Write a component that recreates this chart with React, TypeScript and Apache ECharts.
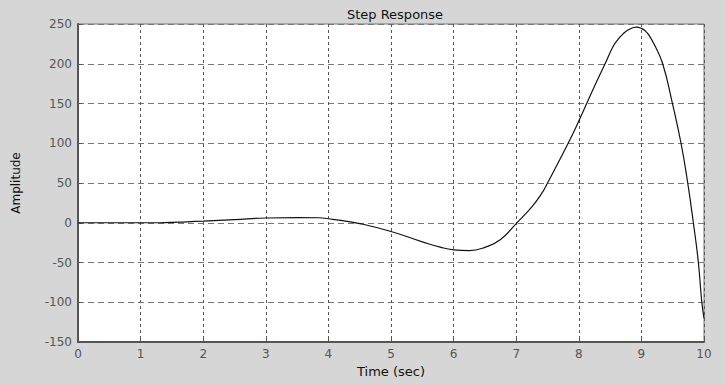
import React, { useEffect, useRef } from "react";
import * as echarts from "echarts";

const times = [0, 0.5, 1, 1.3, 1.6, 2, 2.5, 3, 3.5, 3.85, 4, 4.2, 4.5, 5, 5.5, 5.8, 6, 6.25, 6.5, 6.75, 7, 7.25, 7.4, 7.5, 7.83, 8, 8.2, 8.42, 8.55, 8.63, 8.7, 8.8, 8.92, 9.0, 9.06, 9.12, 9.22, 9.34, 9.49, 9.633, 9.74, 9.83, 9.91, 9.965, 10];
const amplitude = [0, 0, 0, 0, 0.8, 2, 4, 6, 6.5, 6.3, 5, 3, -1, -11, -24, -31, -34, -35, -31, -21, -1, 20, 36, 50, 100, 128, 163, 200, 222, 231, 237, 243, 246, 244.5, 241.5, 236, 222, 200, 152, 100, 50, 0, -50, -100, -120];
const xTicks = { min: 0, max: 10, interval: 1 };
const yTicks = { min: -150, max: 250, interval: 50 };

export default function App() {
  const ref = useRef<HTMLDivElement>(null);
  useEffect(() => {
    document.body.style.margin = "0";
    const chart = echarts.init(ref.current!, undefined, { renderer: "svg" });
    const data = times.map((t, i) => [t, amplitude[i]]);
    const labelStyle = { color: "#555", fontFamily: "DejaVu Sans", fontSize: 12 };
    chart.setOption({
      animation: false,
      backgroundColor: "#d6d6d6",
      title: {
        text: "Step Response",
        left: 390,
        textAlign: "center",
        top: 3,
        textStyle: { fontFamily: "DejaVu Sans", fontSize: 13, fontWeight: "normal", color: "#111" },
      },
      grid: {
        left: 78,
        top: 24,
        right: 22,
        bottom: 43,
        show: true,
        backgroundColor: "#ffffff",
        borderColor: "#777",
        borderWidth: 1,
      },
      xAxis: {
        type: "value",
        min: xTicks.min,
        max: xTicks.max,
        interval: xTicks.interval,
        name: "Time (sec)",
        nameLocation: "middle",
        nameGap: 23,
        nameTextStyle: { fontFamily: "DejaVu Sans", fontSize: 13, color: "#111" },
        axisLine: { show: true, onZero: false, lineStyle: { color: "#555", width: 2 } },
        axisTick: { show: true, inside: true, length: 4, lineStyle: { color: "#555" } },
        axisLabel: { ...labelStyle, margin: 6 },
        splitLine: { show: true, lineStyle: { color: "#555", type: [3, 3], width: 1 } },
      },
      yAxis: {
        type: "value",
        min: yTicks.min,
        max: yTicks.max,
        interval: yTicks.interval,
        name: "Amplitude",
        nameLocation: "middle",
        nameGap: 56,
        nameTextStyle: { fontFamily: "DejaVu Sans", fontSize: 12, color: "#111" },
        axisLine: { show: true, onZero: false, lineStyle: { color: "#555", width: 2 } },
        axisTick: { show: true, inside: true, length: 4, lineStyle: { color: "#555" } },
        axisLabel: { ...labelStyle, margin: 6 },
        splitLine: { show: true, lineStyle: { color: "#777", type: [6, 4], width: 1 } },
      },
      series: [
        {
          type: "line",
          data,
          showSymbol: false,
          smooth: 0.5,
          lineStyle: { color: "#111", width: 1.2 },
        },
      ],
    });
    return () => chart.dispose();
  }, []);
  return <div ref={ref} style={{ width: 726, height: 385, position: "absolute", left: 0, top: 0 }} />;
}
